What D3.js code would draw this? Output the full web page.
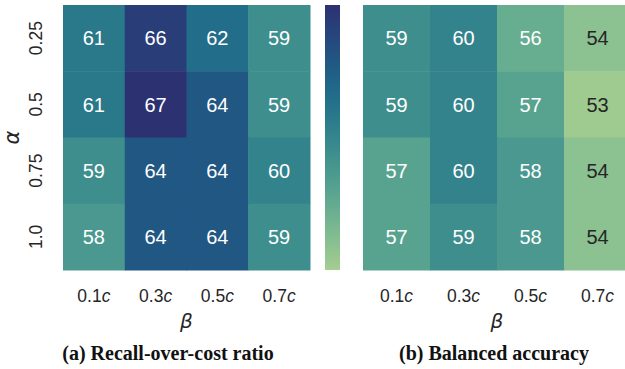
<!DOCTYPE html>
<html>
<head>
<meta charset="utf-8">
<script src="https://cdn.jsdelivr.net/npm/d3@7"></script>
<style>
  html, body { margin: 0; padding: 0; background: #fff; }
  svg { display: block; }
</style>
</head>
<body>
<svg id="chart" width="625" height="369"></svg>
<script>
// Grid labels
const alphas = ["0.25", "0.5", "0.75", "1.0"];
const betas = ["0.1", "0.3", "0.5", "0.7"];

// Rows follow alphas, columns follow betas
const recallOverCost = [
  [61, 66, 62, 59],
  [61, 67, 64, 59],
  [59, 64, 64, 60],
  [58, 64, 64, 59]
];
const balancedAccuracy = [
  [59, 60, 56, 54],
  [59, 60, 57, 53],
  [57, 60, 58, 54],
  [57, 59, 58, 54]
];
const captions = ["(a) Recall-over-cost ratio", "(b) Balanced accuracy"];
const colorDomain = [52.7, 67];

// "crest"-style sequential palette
const crestStops = ["#a5cd90", "#7dba91", "#59a590", "#40908e", "#287a8c", "#1c6488", "#254b7f", "#2c3172"];
const crest = d3.interpolateRgbBasis(crestStops);
const color = d3.scaleSequential(crest).domain(colorDomain);

const svg = d3.select("#chart");
const sansFont = "'Liberation Sans', Arial, sans-serif";

function heatmap(data, x0, x1, y0, y1, caption, showY) {
  const x = d3.scaleBand().domain(betas).range([x0, x1]);
  const y = d3.scaleBand().domain(alphas).range([y0, y1]);
  const g = svg.append("g");

  const cells = [];
  data.forEach((row, i) => row.forEach((v, j) => cells.push({ a: alphas[i], b: betas[j], v })));

  g.selectAll("rect").data(cells).join("rect")
    .attr("x", d => x(d.b))
    .attr("y", d => y(d.a))
    .attr("width", x.bandwidth() + 0.5)
    .attr("height", y.bandwidth() + 0.5)
    .attr("fill", d => color(d.v));

  g.selectAll("text.val").data(cells).join("text")
    .attr("class", "val")
    .attr("x", d => x(d.b) + x.bandwidth() / 2)
    .attr("y", d => y(d.a) + y.bandwidth() / 2)
    .attr("dy", "0.36em")
    .attr("text-anchor", "middle")
    .attr("font-family", sansFont)
    .attr("font-size", 20)
    .attr("fill", d => {
      const c = d3.lab(color(d.v));
      return c.l > 72 ? "#262626" : "#ffffff";
    })
    .text(d => d.v);

  // x tick labels
  const xt = g.selectAll("text.xt").data(betas).join("text")
    .attr("class", "xt")
    .attr("x", d => x(d) + x.bandwidth() / 2)
    .attr("y", 302)
    .attr("text-anchor", "middle")
    .attr("font-family", sansFont)
    .attr("font-size", 17.5)
    .attr("fill", "#262626");
  xt.append("tspan").text(d => d);
  xt.append("tspan").attr("font-style", "italic").text("c");

  // x axis title
  g.append("text")
    .attr("x", (x0 + x1) / 2)
    .attr("y", 328)
    .attr("text-anchor", "middle")
    .attr("font-family", "'DejaVu Sans', sans-serif")
    .attr("font-style", "italic")
    .attr("font-size", 20)
    .attr("fill", "#262626")
    .text("β");

  if (showY) {
    g.selectAll("text.yt").data(alphas).join("text")
      .attr("class", "yt")
      .attr("transform", d => `translate(42,${y(d) + y.bandwidth() / 2}) rotate(-90)`)
      .attr("text-anchor", "middle")
      .attr("font-family", sansFont)
      .attr("font-size", 17.5)
      .attr("fill", "#262626")
      .text(d => d);

    g.append("text")
      .attr("transform", `translate(19,${(y0 + y1) / 2}) rotate(-90)`)
      .attr("text-anchor", "middle")
      .attr("font-family", "'DejaVu Sans', sans-serif")
      .attr("font-style", "italic")
      .attr("font-size", 21)
      .attr("fill", "#262626")
      .text("α");
  }

  svg.append("text")
    .attr("x", caption.cx)
    .attr("y", 360)
    .attr("text-anchor", "middle")
    .attr("font-family", "'Liberation Serif', 'Times New Roman', serif")
    .attr("font-weight", "bold")
    .attr("font-size", 20)
    .attr("fill", "#111")
    .text(caption.text);
}

heatmap(recallOverCost, 63, 310, 5, 270, { text: captions[0], cx: 168 }, true);
heatmap(balancedAccuracy, 363, 631, 5, 270, { text: captions[1], cx: 494 }, false);

// colour bar
const defs = svg.append("defs");
const grad = defs.append("linearGradient")
  .attr("id", "cbar")
  .attr("x1", 0).attr("y1", 1).attr("x2", 0).attr("y2", 0);
d3.range(0, 1.0001, 0.05).forEach(t => {
  grad.append("stop").attr("offset", t).attr("stop-color", crest(t));
});
const cbScale = d3.scaleLinear().domain(colorDomain).range([270, 5]);
svg.append("rect")
  .attr("x", 325)
  .attr("y", cbScale(colorDomain[1]))
  .attr("width", 15)
  .attr("height", cbScale(colorDomain[0]) - cbScale(colorDomain[1]))
  .attr("fill", "url(#cbar)");
</script>
</body>
</html>
